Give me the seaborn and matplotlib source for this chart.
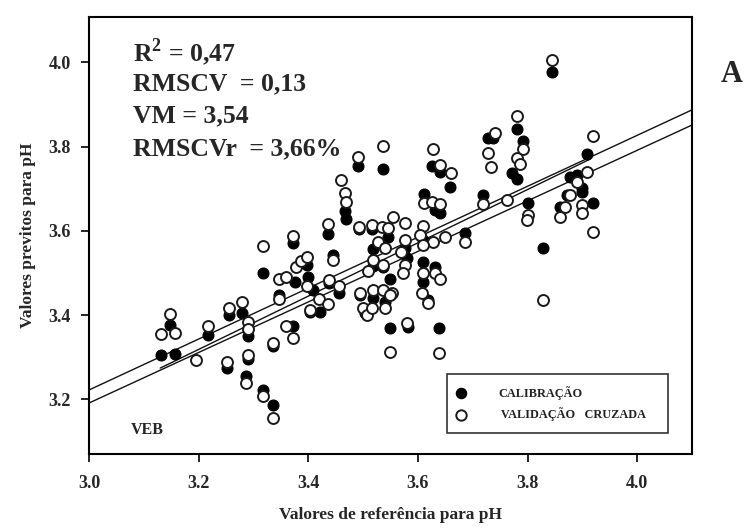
import numpy as np
import pandas as pd
import matplotlib
matplotlib.use("Agg")
import matplotlib.pyplot as plt
import seaborn as sns

# ---------------- data ----------------
cal_x = [3.131, 3.156, 3.147, 3.217, 3.255, 3.279, 3.290, 3.317, 3.251, 3.290,
         3.287, 3.317, 3.335, 3.335, 3.346, 3.372, 3.372, 3.376, 3.397, 3.399,
         3.403, 3.421, 3.408, 3.436, 3.445, 3.437, 3.456, 3.467, 3.469, 3.490,
         3.492, 3.516, 3.494, 3.503, 3.518, 3.518, 3.545, 3.536, 3.518, 3.540,
         3.549, 3.549, 3.536, 3.576, 3.580, 3.609, 3.609, 3.631, 3.609, 3.618,
         3.582, 3.638, 3.658, 3.612, 3.631, 3.640, 3.625, 3.640, 3.686, 3.718,
         3.728, 3.737, 3.780, 3.791, 3.771, 3.780, 3.801, 3.828, 3.844, 3.859,
         3.872, 3.877, 3.890, 3.899, 3.899, 3.908, 3.919]
cal_y = [3.305, 3.307, 3.376, 3.353, 3.400, 3.405, 3.350, 3.500, 3.274, 3.296,
         3.255, 3.222, 3.187, 3.327, 3.448, 3.374, 3.571, 3.478, 3.519, 3.490,
         3.407, 3.407, 3.459, 3.592, 3.543, 3.476, 3.452, 3.647, 3.628, 3.754,
         3.604, 3.604, 3.448, 3.405, 3.516, 3.557, 3.585, 3.514, 3.440, 3.431,
         3.486, 3.369, 3.747, 3.559, 3.535, 3.578, 3.526, 3.514, 3.478, 3.436,
         3.372, 3.369, 3.704, 3.687, 3.649, 3.642, 3.754, 3.740, 3.595, 3.685,
         3.820, 3.820, 3.842, 3.813, 3.737, 3.723, 3.666, 3.559, 3.977, 3.657,
         3.685, 3.728, 3.732, 3.702, 3.692, 3.782, 3.666]

cv_x = [3.131, 3.147, 3.156, 3.195, 3.217, 3.255, 3.279, 3.290, 3.290, 3.251,
        3.290, 3.287, 3.317, 3.335, 3.335, 3.317, 3.346, 3.346, 3.359, 3.359,
        3.372, 3.372, 3.377, 3.386, 3.397, 3.397, 3.403, 3.419, 3.436, 3.436,
        3.445, 3.437, 3.456, 3.459, 3.467, 3.469, 3.490, 3.492, 3.516, 3.494,
        3.499, 3.507, 3.509, 3.518, 3.527, 3.534, 3.545, 3.554, 3.540, 3.536,
        3.518, 3.516, 3.536, 3.540, 3.552, 3.549, 3.536, 3.576, 3.576, 3.570,
        3.576, 3.572, 3.580, 3.609, 3.603, 3.627, 3.609, 3.649, 3.686, 3.609,
        3.631, 3.640, 3.549, 3.607, 3.618, 3.638, 3.612, 3.625, 3.640, 3.627,
        3.640, 3.660, 3.718, 3.762, 3.740, 3.728, 3.733, 3.780, 3.791, 3.780,
        3.786, 3.801, 3.799, 3.828, 3.844, 3.859, 3.868, 3.877, 3.899, 3.899,
        3.908, 3.919, 3.919, 3.890]
cv_y = [3.355, 3.402, 3.357, 3.293, 3.374, 3.417, 3.431, 3.384, 3.367, 3.289,
        3.305, 3.239, 3.208, 3.156, 3.334, 3.564, 3.486, 3.438, 3.490, 3.374,
        3.345, 3.588, 3.514, 3.528, 3.538, 3.469, 3.412, 3.438, 3.426, 3.616,
        3.531, 3.483, 3.469, 3.721, 3.690, 3.668, 3.775, 3.609, 3.614, 3.452,
        3.417, 3.400, 3.505, 3.531, 3.573, 3.609, 3.607, 3.633, 3.559, 3.519,
        3.459, 3.417, 3.459, 3.417, 3.452, 3.312, 3.801, 3.619, 3.578, 3.550,
        3.519, 3.500, 3.381, 3.611, 3.590, 3.573, 3.566, 3.585, 3.573, 3.500,
        3.500, 3.486, 3.448, 3.452, 3.429, 3.310, 3.666, 3.668, 3.664, 3.794,
        3.756, 3.737, 3.664, 3.673, 3.832, 3.785, 3.751, 3.873, 3.794, 3.773,
        3.759, 3.637, 3.626, 3.436, 4.005, 3.633, 3.657, 3.685, 3.661, 3.642,
        3.740, 3.825, 3.597, 3.716]

# fitted lines (endpoints)
line_x0 = [3.000, 3.000, 3.130]
line_x1 = [4.100, 4.100, 3.914]
line_y0 = [3.222, 3.191, 3.274]
line_y1 = [3.887, 3.851, 3.770]

x_ticks = [3.0, 3.2, 3.4, 3.6, 3.8, 4.0]
y_ticks = [3.2, 3.4, 3.6, 3.8, 4.0]
stats_lines = ["R$^{\\mathbf{2}}$ = 0,47", "RMSCV  = 0,13", "VM = 3,54", "RMSCVr  = 3,66%"]
legend_labels = ["CALIBRAÇÃO", " VALIDAÇÃO   CRUZADA"]

# ---------------- figure ----------------
sns.set_style("ticks")
plt.rcParams['font.family'] = ['Liberation Serif', 'DejaVu Serif']
plt.rcParams['font.weight'] = 'bold'
plt.rcParams['mathtext.fontset'] = 'custom'
plt.rcParams['mathtext.rm'] = 'Liberation Serif:bold'
plt.rcParams['mathtext.bf'] = 'Liberation Serif:bold'

fig = plt.figure(figsize=(7.47, 5.31), dpi=100)
ax = fig.add_axes([89/747, 1-454/531, (692-89)/747, (454-17)/531])

lines_df = pd.DataFrame({
    "lid": np.repeat(np.arange(len(line_x0)), 2),
    "x": np.ravel(np.column_stack([line_x0, line_x1])),
    "y": np.ravel(np.column_stack([line_y0, line_y1])),
})
for lid, g in lines_df.groupby("lid"):
    sns.lineplot(data=g, x="x", y="y", ax=ax, color="#111111", linewidth=1.0,
                 estimator=None, sort=False, legend=False, zorder=2)

sns.scatterplot(x=cal_x, y=cal_y, ax=ax, s=62, color="black", edgecolor="black",
                linewidth=0.8, label=legend_labels[0], zorder=3)
sns.scatterplot(x=cv_x, y=cv_y, ax=ax, s=62, facecolor="white", edgecolor="#1a1a1a",
                linewidth=1.4, label=legend_labels[1], zorder=4)

ax.set_xlim(3.0, 4.1)
ax.set_ylim(3.070, 4.1075)
ax.set_xticks(x_ticks)
ax.set_yticks(y_ticks)
ax.set_xticklabels([f"{v:.1f}" for v in x_ticks], fontsize=13, fontweight='bold')
ax.set_yticklabels([f"{v:.1f}" for v in y_ticks], fontsize=13, fontweight='bold')
ax.tick_params(axis='both', direction='out', length=6, width=1.2, color='black')
ax.tick_params(axis='x', pad=9)
ax.tick_params(axis='y', pad=7)
for sp in ax.spines.values():
    sp.set_visible(True)
    sp.set_linewidth(1.5)
    sp.set_color('black')

ax.set_xlabel("Valores de referência para pH", fontsize=12.5, fontweight='bold', labelpad=11)
ax.set_ylabel("Valores previtos para pH", fontsize=12.5, fontweight='bold', labelpad=9)

for i, t in enumerate(stats_lines):
    ax.text(0.073, 0.92 - i * 0.0735, t, transform=ax.transAxes, fontsize=18.5,
            fontweight='bold', va='center', ha='left')

ax.text(0.07, 0.055, "VEB", transform=ax.transAxes, fontsize=11.5, fontweight='bold',
        va='center', ha='left')
fig.text(732/747, 1-75/531, "A", fontsize=22, fontweight='bold', va='center', ha='center')

leg = ax.legend(loc='lower left', bbox_to_anchor=(0.594, 0.048, 0.366, 0.133),
                mode='expand', prop={'family': 'Liberation Serif', 'weight': 'bold', 'size': 8.8},
                frameon=True, fancybox=False, edgecolor='black', borderpad=0.95,
                handlelength=0.4, handletextpad=2.8, labelspacing=0.65, borderaxespad=0,
                markerscale=0.95)
leg.get_frame().set_linewidth(1.2)
for t in leg.get_texts():
    t.set_color('#222222')

fig.savefig("out.png", dpi=100)
